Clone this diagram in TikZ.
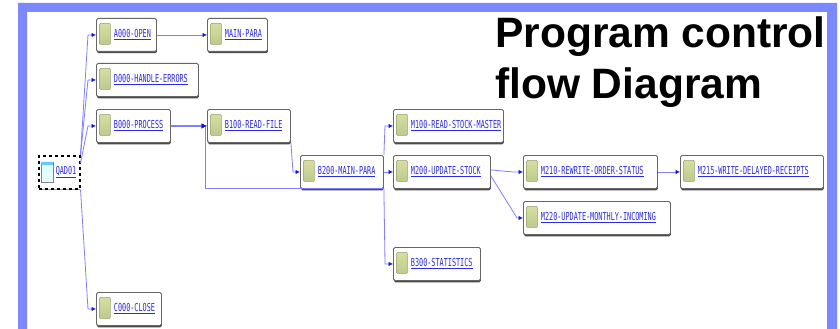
\documentclass[tikz,border=0pt]{standalone}
\usepackage{fontspec}
\usetikzlibrary{arrows.meta,shadows}
\newfontfamily\titlefont{Liberation Sans}
\newfontfamily\procfont[FakeStretch=0.62]{DejaVu Sans Mono}
\definecolor{bandblue}{HTML}{7C88FF}
\definecolor{linkblue}{HTML}{2A2AE8}
\definecolor{edgeblue}{HTML}{7F7FFF}
\definecolor{tipblue}{HTML}{1414E0}
\definecolor{boxgray}{HTML}{666666}
\definecolor{icontop}{HTML}{DDE2A6}
\definecolor{iconbottom}{HTML}{B4C486}
\definecolor{iconedge}{HTML}{98A070}
\newcommand{\plink}[1]{\raisebox{1.5pt}{\underline{#1}}}
\begin{document}
\begin{tikzpicture}[
    x=1pt, y=-1pt,
    proc/.style={draw=boxgray, line width=0.9pt, fill=white, rounded corners=1.5pt, anchor=north west,
      minimum height=33pt, inner xsep=0pt, inner ysep=0pt, text width=#1pt, align=left,
      font=\procfont\fontsize{11}{12}\selectfont, text=linkblue,
      execute at begin node={\hspace*{17.5pt}},
      general shadow={shadow xshift=0.4pt, shadow yshift=-1.8pt, fill=black!70},
      path picture={
        \draw[draw=iconedge, line width=0.5pt, rounded corners=1pt, top color=icontop, bottom color=iconbottom]
          ([xshift=3pt,yshift=-5pt]path picture bounding box.north west) rectangle ([xshift=14pt,yshift=-26pt]path picture bounding box.north west);
      }},
    mainbox/.style={draw=black, line width=1.5pt, dashed, fill=white, anchor=north west,
      minimum height=33pt, inner xsep=0pt, inner ysep=0pt, text width=#1pt, align=left,
      font=\procfont\fontsize{11}{12}\selectfont, text=linkblue,
      execute at begin node={\hspace*{17pt}},
      general shadow={shadow xshift=0.6pt, shadow yshift=-1.2pt, fill=black!40},
      path picture={
        \draw[solid, draw=gray, line width=0.5pt, top color=cyan!15, bottom color=cyan!8!white]
          ([xshift=2.5pt,yshift=-6pt]path picture bounding box.north west) rectangle ([xshift=14pt,yshift=-26pt]path picture bounding box.north west);
        \fill[blue!35!cyan!60]
          ([xshift=2.5pt,yshift=-6pt]path picture bounding box.north west) rectangle ([xshift=14pt,yshift=-9pt]path picture bounding box.north west);
      }},
    flow/.style={draw=edgeblue, line width=0.8pt, -{Latex[length=4.5pt,width=4.5pt,color=tipblue,fill=tipblue]}},
    flowbold/.style={flow, line width=1.2pt, -{Latex[length=5.5pt,width=5.5pt,color=tipblue,fill=tipblue]}}
  ]
    \useasboundingbox (0,0) rectangle (840,329);
    \fill[white] (0,0) rectangle (840,329);
    \fill[bandblue, even odd rule] (18,329) -- (18,3) -- (837,3) -- (837,329) -- (827,329) -- (827,12) -- (27,12) -- (27,329) -- cycle;

    \node [mainbox=41] (qad) at (38,155) {\plink{QAD01}};
    \node [proc=60] (aopen) at (96,18) {\plink{A000-OPEN}};
    \node [proc=60] (mainpara) at (207,18) {\plink{MAIN-PARA}};
    \node [proc=102] (derrors) at (96,63) {\plink{D000-HANDLE-ERRORS}};
    \node [proc=74] (bprocess) at (96,109) {\plink{B000-PROCESS}};
    \node [proc=83] (bread) at (207,109) {\plink{B100-READ-FILE}};
    \node [proc=83] (bmain) at (300,155) {\plink{B200-MAIN-PARA}};
    \node [proc=110] (mread) at (393,109) {\plink{M100-READ-STOCK-MASTER}};
    \node [proc=97] (mupdate) at (393,155) {\plink{M200-UPDATE-STOCK}};
    \node [proc=87] (bstats) at (393,247) {\plink{B300-STATISTICS}};
    \node [proc=134] (mrewrite) at (523,155) {\plink{M210-REWRITE-ORDER-STATUS}};
    \node [proc=143] (mdelayed) at (680,155) {\plink{M215-WRITE-DELAYED-RECEIPTS}};
    \node [proc=147] (mmonthly) at (523,201) {\plink{M220-UPDATE-MONTHLY-INCOMING}};
    \node [proc=65] (cclose) at (96,292) {\plink{C000-CLOSE}};
    \node [anchor=north west, inner sep=0pt, align=left, font=\titlefont\bfseries\fontsize{42.5}{51}\selectfont] (title) at (495,17) {Program control\\flow Diagram};

    \draw [flow] (qad.north east) -- ([xshift=-8pt]aopen.west) -- (aopen.west);
    \draw [flow] (qad.north east) -- ([xshift=-8pt]derrors.west) -- (derrors.west);
    \draw [flow] ([yshift=-8pt]qad.north east) -- ([xshift=-8pt]bprocess.west) -- (bprocess.west);
    \draw [flow] (qad.south east) -- ([xshift=-8pt]cclose.west) -- (cclose.west);
    \draw [flow] (aopen) -- (mainpara);
    \draw [flowbold] (bprocess) -- (bread);
    \draw [flow] (bread.south east) -- ([xshift=-7pt]bmain.west) -- (bmain.west);
    \draw [flowbold, line width=0.9pt] (bmain.south east) -- ([xshift=-2pt]bmain.south east -| bread.west) -- ([xshift=-2pt]bread.west) -- (bread.west);
    \draw [flow] (bmain.north east) -- ([xshift=-8pt]mread.west) -- (mread.west);
    \draw [flow] (bmain) -- (mupdate);
    \draw [flow] (bmain.south east) -- ([xshift=-8pt]bstats.west) -- (bstats.west);
    \draw [flow] ([yshift=2pt]mupdate.east) -- ([xshift=-10pt]mrewrite.west) -- (mrewrite.west);
    \draw [flow] ([yshift=-4pt]mupdate.east) -- ([xshift=-6pt]mmonthly.west) -- (mmonthly.west);
    \draw [flow] (mrewrite) -- (mdelayed);
  \end{tikzpicture}
\end{document}
